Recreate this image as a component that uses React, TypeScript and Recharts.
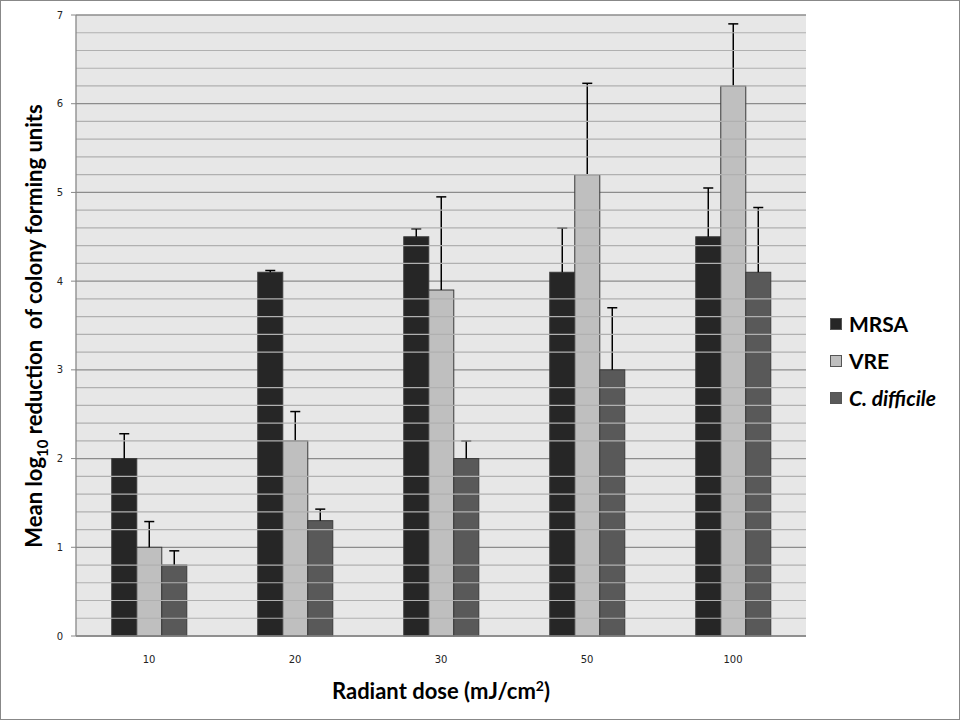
import React from "react";
import { BarChart, Bar, XAxis, YAxis, CartesianGrid, ReferenceLine, Legend } from "recharts";

const doses = ["10", "20", "30", "50", "100"];
const mrsa = [2.0, 4.1, 4.5, 4.1, 4.5];
const vre = [1.0, 2.2, 3.9, 5.2, 6.2];
const cdiff = [0.8, 1.3, 2.0, 3.0, 4.1];
const mrsaErr = [0.28, 0.02, 0.09, 0.5, 0.55];
const vreErr = [0.29, 0.33, 1.05, 1.03, 0.7];
const cdiffErr = [0.16, 0.13, 0.2, 0.7, 0.73];
const yTicks = [0, 1, 2, 3, 4, 5, 6, 7];
const minorTicks = [0.2, 0.4, 0.6, 0.8, 1.2, 1.4, 1.6, 1.8, 2.2, 2.4, 2.6, 2.8, 3.2, 3.4, 3.6, 3.8, 4.2, 4.4, 4.6, 4.8, 5.2, 5.4, 5.6, 5.8, 6.2, 6.4, 6.6, 6.8];

const series = [
  { key: "mrsa", err: "mrsaErr", name: "MRSA", color: "#262626", italic: false },
  { key: "vre", err: "vreErr", name: "VRE", color: "#bfbfbf", italic: false },
  { key: "cdiff", err: "cdiffErr", name: "C. difficile", color: "#595959", italic: true },
];

const data = doses.map((d, i) => ({
  dose: d,
  mrsa: mrsa[i],
  vre: vre[i],
  cdiff: cdiff[i],
  mrsaErr: mrsaErr[i],
  vreErr: vreErr[i],
  cdiffErr: cdiffErr[i],
}));

const FONT = "Lato, 'Open Sans', 'Liberation Sans', sans-serif";

const LegendContent = () => (
  <div style={{ fontFamily: FONT }}>
    {series.map((s) => (
      <div key={s.key} style={{ display: "flex", alignItems: "center", height: 37 }}>
        <span style={{ display: "inline-block", width: 12, height: 12, background: s.color, border: "1px solid #555", boxSizing: "border-box", marginRight: 7 }} />
        <span style={{ fontSize: 21, fontWeight: 700, fontStyle: s.italic ? "italic" : "normal", color: "#000" }}>{s.name}</span>
      </div>
    ))}
  </div>
);

const YLabel = () => (
  <text
    x={0}
    y={0}
    transform="translate(41,325) rotate(-90)"
    textAnchor="middle"
    fontFamily={FONT}
    fontSize={22}
    fontWeight={700}
    fill="#000"
  >
    <tspan>Mean log</tspan>
    <tspan fontSize={15} dy={6}>10</tspan>
    <tspan dy={-6} xmlSpace="preserve"> reduction  of colony forming units</tspan>
  </text>
);

const XLabel = () => (
  <text x={440} y={698} textAnchor="middle" fontFamily={FONT} fontSize={22} fontWeight={700} fill="#000">
    <tspan>Radiant dose (mJ/cm</tspan>
    <tspan fontSize={14} dy={-8}>2</tspan>
    <tspan dy={8}>)</tspan>
  </text>
);

const makeShape = (errKey: string) => (props: any) => {
  const { x, y, width, height, fill, stroke, payload, value } = props;
  const v = Array.isArray(value) ? value[1] - value[0] : value;
  const err = payload[errKey];
  const pxPerUnit = v ? height / v : 0;
  const top = y - err * pxPerUnit;
  const cx = x + width / 2;
  return (
    <g>
      <rect x={x} y={y} width={width} height={height} fill={fill} stroke={stroke} strokeWidth={1} />
      <line x1={cx} y1={y} x2={cx} y2={top} stroke="#000" strokeWidth={1.5} />
      <line x1={cx - 5} y1={top} x2={cx + 5} y2={top} stroke="#000" strokeWidth={1.5} />
    </g>
  );
};

export default function App() {
  return (
    <div style={{ position: "absolute", left: 0, top: 0, width: 960, height: 720, background: "#fff", border: "1px solid #888", boxSizing: "border-box" }}>
      <BarChart
        width={958}
        height={718}
        data={data}
        margin={{ top: 14, right: 153, bottom: 53, left: 29 }}
        barCategoryGap="24.5%"
        barGap={0}
      >
        <CartesianGrid vertical={false} fill="#e7e7e7" stroke="#8c8c8c" strokeWidth={1.3} />
        {minorTicks.map((t) => (
          <ReferenceLine key={t} y={t} stroke="#b0b0b0" strokeWidth={1.2} ifOverflow="visible" />
        ))}
        <XAxis
          dataKey="dose"
          tickLine={false}
          axisLine={{ stroke: "#888", strokeWidth: 1.3 }}
          tick={{ fontSize: 10, fill: "#222", fontFamily: "'DejaVu Sans', sans-serif" }}
          tickMargin={14}
          height={30}
          label={<XLabel />}
        />
        <YAxis
          domain={[0, 7]}
          ticks={yTicks}
          width={46}
          tickSize={5}
          tickMargin={8}
          tickLine={{ stroke: "#888" }}
          axisLine={{ stroke: "#888", strokeWidth: 1.3 }}
          tick={{ fontSize: 10, fill: "#222", fontFamily: "'DejaVu Sans', sans-serif" }}
          label={<YLabel />}
        />
        {series.map((s) => (
          <Bar
            key={s.key}
            dataKey={s.key}
            name={s.name}
            fill={s.color}
            stroke="#3a3a3a"
            isAnimationActive={false}
            shape={makeShape(s.err)}
          />
        ))}
        <Legend
          verticalAlign="bottom"
          content={<LegendContent />}
          wrapperStyle={{ position: "absolute", left: 829, top: 304, width: 130, height: 0, overflow: "visible" }}
        />
      </BarChart>
    </div>
  );
}
